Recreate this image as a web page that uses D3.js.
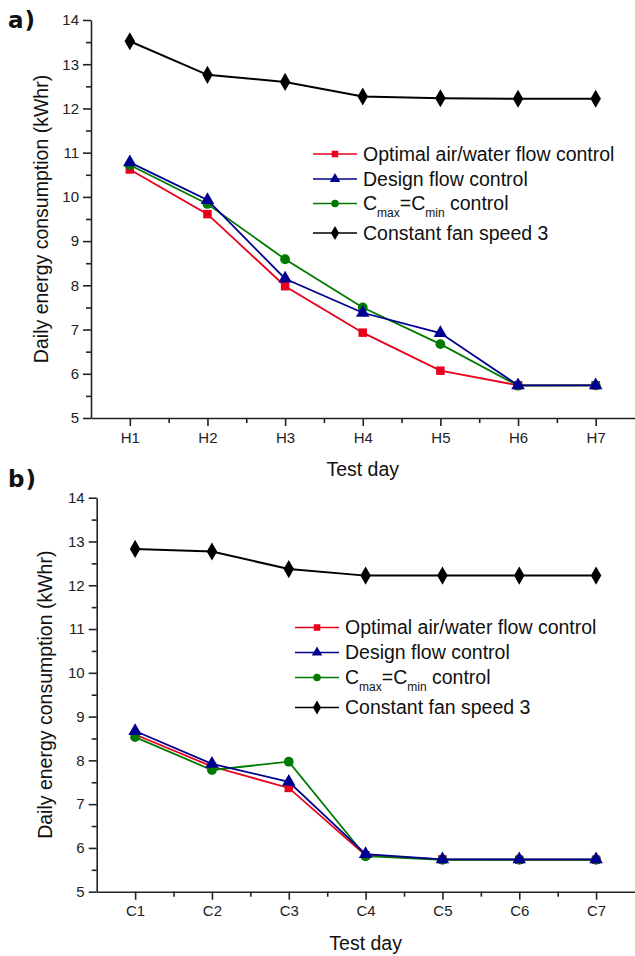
<!DOCTYPE html>
<html lang="en">
<head>
<meta charset="UTF-8">
<title>Daily energy consumption</title>
<script src="https://cdn.jsdelivr.net/npm/d3@7"></script>
<style>
    body{ margin:0; background:#fff; }
    svg text{ font-family: "Liberation Sans", Arial, sans-serif; fill:#111; }
    .axis path, .axis line{ stroke:#222; stroke-width:1.6; }
    .axis text{ font-size:15px; fill:#222; }
    .panel-label{ font-family:"DejaVu Sans", Verdana, sans-serif !important; font-weight:bold; font-size:23px; letter-spacing:1px; }
</style>
</head>
<body>
<svg id="main-svg" width="635" height="956"></svg>
<script>
// ---- data ----
const daysA = ['H1','H2','H3','H4','H5','H6','H7'];
const daysB = ['C1','C2','C3','C4','C5','C6','C7'];

const optimalA  = [10.62, 9.61, 7.98, 6.93, 6.07, 5.74, 5.74];
const designA   = [10.78, 9.93, 8.15, 7.38, 6.92, 5.74, 5.74];
const cmaxminA  = [10.72, 9.84, 8.59, 7.50, 6.67, 5.73, 5.74];
const constantA = [13.52, 12.76, 12.60, 12.27, 12.23, 12.22, 12.22];

const optimalB  = [8.59, 7.86, 7.37, 5.83, 5.74, 5.73, 5.73];
const designB   = [8.67, 7.92, 7.51, 5.86, 5.74, 5.74, 5.74];
const cmaxminB  = [8.53, 7.78, 7.97, 5.81, 5.73, 5.73, 5.73];
const constantB = [12.83, 12.77, 12.37, 12.22, 12.22, 12.22, 12.22];

const yTicks = [5, 6, 7, 8, 9, 10, 11, 12, 13, 14];

const seriesNames = ['Optimal air/water flow control', 'Design flow control', 'Cmax=Cmin control', 'Constant fan speed 3'];
const seriesColors = ['#e8001c', '#000090', '#007a00', '#000000'];
const seriesShapes = [d3.symbolSquare, d3.symbolTriangle, d3.symbolCircle, d3.symbolDiamond];
const seriesSizes = [72, 80, 75, 95];

let svg = d3.select('#main-svg');

let drawPanel = (cfg) => {
    let g = svg.append('g');

    let x = d3.scaleLinear().domain([0.5, 7.5]).range([cfg.left, cfg.right]);
    let y = d3.scaleLinear().domain([5, 14]).range([cfg.bottom, cfg.top]);

    // minor ticks
    g.append('g').attr('class','axis')
        .attr('transform','translate(0,'+cfg.bottom+')')
        .call(d3.axisBottom(x).tickValues(d3.range(1.5, 7.5, 1)).tickSize(5).tickFormat(''))
        .select('.domain').remove();
    g.append('g').attr('class','axis')
        .attr('transform','translate('+cfg.left+',0)')
        .call(d3.axisLeft(y).tickValues(d3.range(5.5, 14, 1)).tickSize(5).tickFormat(''))
        .select('.domain').remove();

    // major axes
    g.append('g').attr('class','axis')
        .attr('transform','translate(0,'+cfg.bottom+')')
        .call(d3.axisBottom(x).tickValues(d3.range(1, 8)).tickSize(8).tickSizeOuter(0)
            .tickPadding(6).tickFormat((d) => cfg.days[d-1]));
    g.append('g').attr('class','axis')
        .attr('transform','translate('+cfg.left+',0)')
        .call(d3.axisLeft(y).tickValues(yTicks).tickSize(8).tickSizeOuter(0).tickPadding(4));

    // axis titles
    g.append('text')
        .attr('x', (cfg.left + cfg.right)/2)
        .attr('y', cfg.bottom + 58)
        .attr('text-anchor','middle')
        .style('font-size','19.5px')
        .text('Test day');
    g.append('text')
        .attr('transform','translate('+cfg.yTitleX+','+((cfg.top + cfg.bottom)/2)+') rotate(-90)')
        .attr('text-anchor','middle')
        .attr('dy','0.35em')
        .style('font-size','19.5px')
        .text('Daily energy consumption (kWhr)');

    // panel label
    g.append('text').attr('class','panel-label')
        .attr('x', 8).attr('y', cfg.labelY)
        .text(cfg.label);

    // series, drawn black, red, green, blue
    let order = [3, 0, 2, 1];
    order.forEach((s) => {
        let vals = cfg.series[s];
        let line = d3.line().x((d,i) => x(i+1)).y((d) => y(d));
        g.append('path')
            .datum(vals)
            .attr('d', line)
            .attr('fill','none')
            .attr('stroke', seriesColors[s])
            .attr('stroke-width', s === 3 ? 2 : 1.8);
        g.selectAll()
            .data(vals)
            .enter()
            .append('path')
            .attr('transform', (d,i) => 'translate('+x(i+1)+','+y(d)+')')
            .attr('d', d3.symbol().type(seriesShapes[s]).size(seriesSizes[s]))
            .attr('fill', seriesColors[s]);
    });

    // legend
    let leg = g.append('g');
    seriesNames.forEach((name, i) => {
        let ly = cfg.legendY[i];
        leg.append('line')
            .attr('x1', cfg.legendX).attr('x2', cfg.legendX + 44)
            .attr('y1', ly).attr('y2', ly)
            .attr('stroke', seriesColors[i]).attr('stroke-width', 1.6);
        leg.append('path')
            .attr('transform','translate('+(cfg.legendX + 22)+','+ly+')')
            .attr('d', d3.symbol().type(seriesShapes[i]).size(seriesSizes[i]*0.6))
            .attr('fill', seriesColors[i]);
        let t = leg.append('text')
            .attr('x', cfg.legendX + 50)
            .attr('y', ly)
            .attr('dy','0.35em')
            .style('font-size','19.5px');
        if(i === 2){
            t.append('tspan').text('C');
            t.append('tspan').attr('dy', 7).style('font-size','12px').text('max');
            t.append('tspan').attr('dy', -7).text('=C');
            t.append('tspan').attr('dy', 7).style('font-size','12px').text('min');
            t.append('tspan').attr('dy', -7).text(' control');
        }else{
            t.text(name);
        }
    });
};

drawPanel({
    label: 'a)', labelY: 28,
    left: 91, right: 634.5, top: 20, bottom: 418,
    yTitleX: 41,
    days: daysA,
    series: [optimalA, designA, cmaxminA, constantA],
    legendX: 313, legendY: [154, 179, 203.5, 233]
});

drawPanel({
    label: 'b)', labelY: 487,
    left: 96.7, right: 634.5, top: 497.7, bottom: 891.7,
    yTitleX: 45.5,
    days: daysB,
    series: [optimalB, designB, cmaxminB, constantB],
    legendX: 295, legendY: [627.5, 652.5, 677.5, 707.5]
});
</script>
</body>
</html>
